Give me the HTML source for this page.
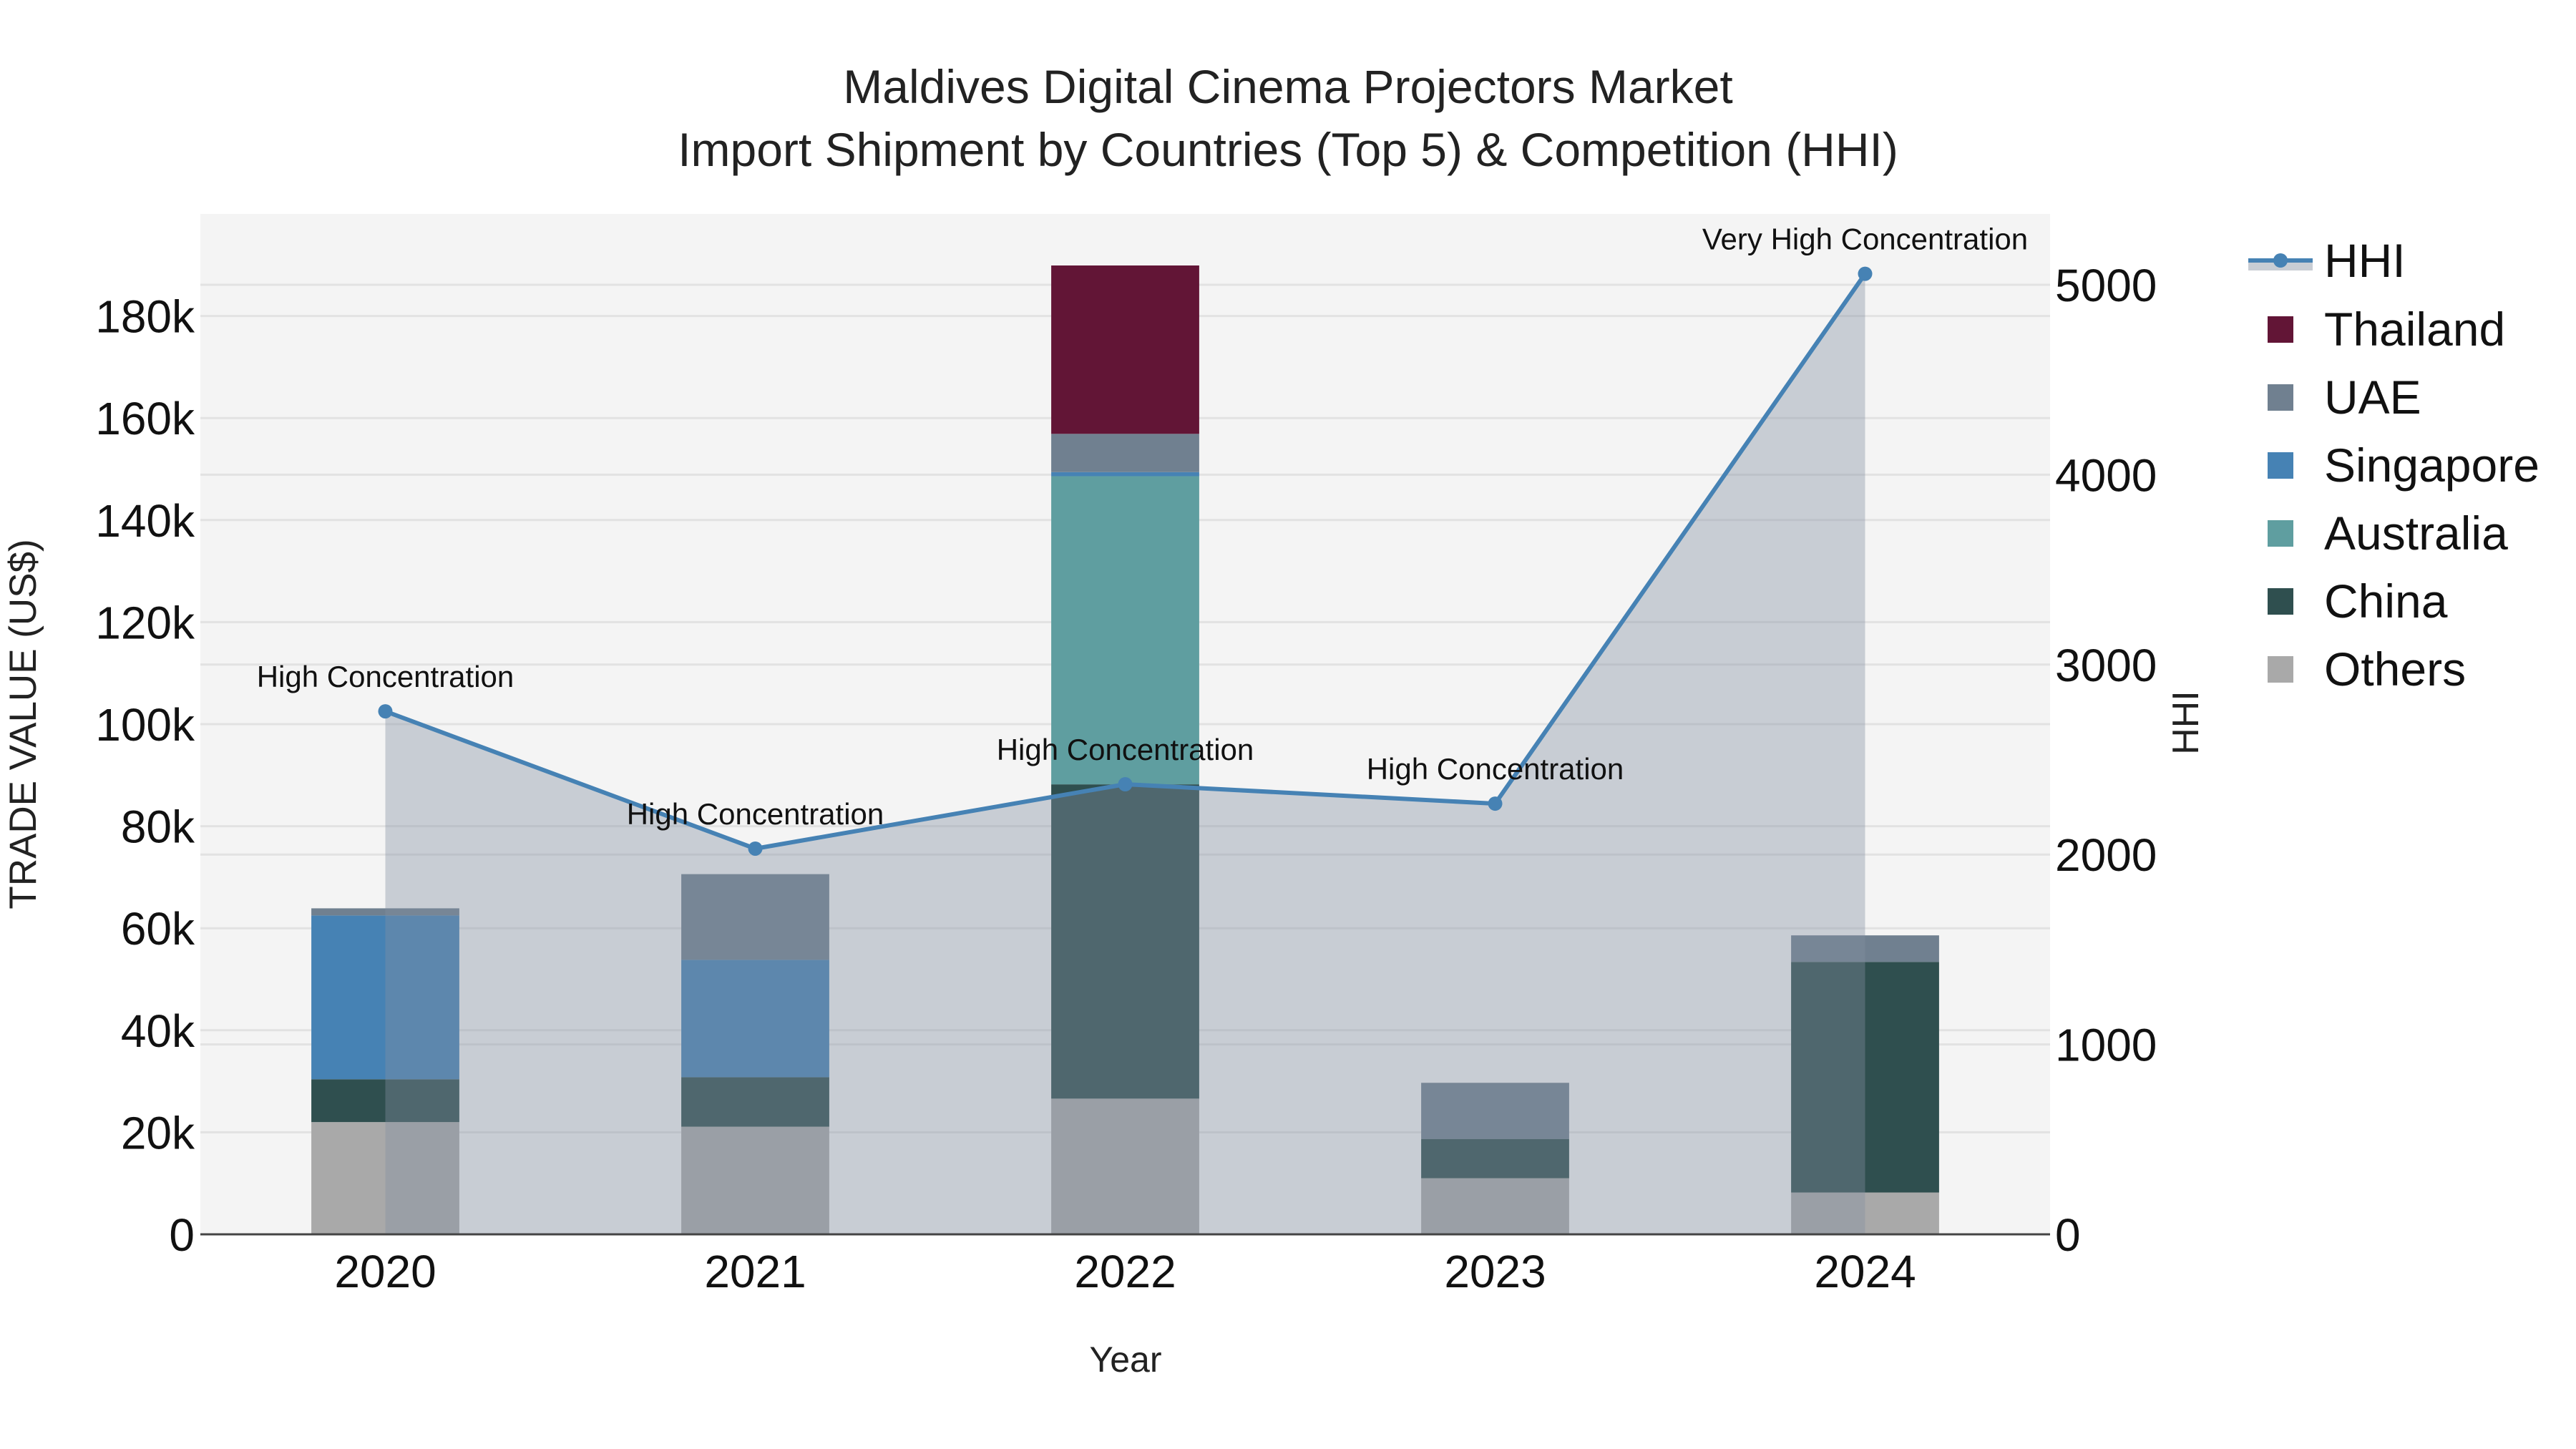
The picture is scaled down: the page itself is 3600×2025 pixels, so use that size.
<!DOCTYPE html>
<html><head><meta charset="utf-8"><style>
html,body{margin:0;padding:0;background:#fff;}
svg{display:block;font-family:"Liberation Sans",Arial,sans-serif;}
</style></head><body>
<svg id="chart" width="3600" height="2025" viewBox="0 0 3600 2025" xmlns="http://www.w3.org/2000/svg">
<rect x="0" y="0" width="3600" height="2025" fill="#fff"/>
<text x="1800" y="144" text-anchor="middle" font-size="66" fill="#222">Maldives Digital Cinema Projectors Market</text>
<text x="1800" y="232" text-anchor="middle" font-size="66" fill="#222">Import Shipment by Countries (Top 5) &amp; Competition (HHI)</text>
<rect x="280" y="299" width="2585" height="1426" fill="#f4f4f4"/>
<g id="grid"></g>
<g id="bars"></g>
<g id="area"></g>
<g id="line"></g>
<g id="axes"></g>
<text transform="translate(50,1012) rotate(-90)" text-anchor="middle" font-size="53" fill="#222">TRADE VALUE (US$)</text>
<text transform="translate(3072,1010) rotate(-90)" text-anchor="middle" font-size="52" fill="#222">HHI</text>
<text x="1573" y="1917" text-anchor="middle" font-size="50" fill="#222">Year</text>
<g id="legend"></g>
</svg>
<script>
const years = ["2020","2021","2022","2023","2024"];
const seriesNames = ["Others","China","Australia","Singapore","UAE","Thailand"];
const others    = [22.0, 21.1, 26.6, 11.0, 8.2];
const china     = [8.4, 9.7, 61.6, 7.7, 45.2];
const australia = [0, 0, 60.4, 0, 0];
const singapore = [32.1, 23.0, 0.8, 0, 0];
const uae       = [1.4, 16.8, 7.5, 11.0, 5.2];
const thailand  = [0, 0, 33.0, 0, 0];
const hhi = [2754, 2031, 2370, 2268, 5058];
const hhiLabels = ["High Concentration","High Concentration","High Concentration","High Concentration","Very High Concentration"];
const yTicks = [0,20,40,60,80,100,120,140,160,180];
const y2Ticks = [0,1000,2000,3000,4000,5000];

const NS="http://www.w3.org/2000/svg";
const L=280,R=2865,T=299,B=1725;
const band=(R-L)/years.length;
const xc=i=>L+band*(i+0.5);
const y=v=>B-(B-T)*v/200;
const y2=v=>B-(B-T)*v/5373;
function mk(tag,attrs,parent){const e=document.createElementNS(NS,tag);for(const k in attrs)e.setAttribute(k,attrs[k]);parent.appendChild(e);return e;}
const colors={Others:"#a9a9a9",China:"#2f4f4f",Australia:"#5f9ea0",Singapore:"#4682b4",UAE:"#708090",Thailand:"#621536"};
const data={Others:others,China:china,Australia:australia,Singapore:singapore,UAE:uae,Thailand:thailand};

const grid=document.getElementById('grid');
yTicks.forEach(t=>{const l=mk('line',{x1:L,x2:R,y1:y(t),y2:y(t),stroke:"#e2e2e2","stroke-width":3},grid);

});
y2Ticks.forEach(t=>{const l=mk('line',{x1:L,x2:R,y1:y2(t),y2:y2(t),stroke:"#e2e2e2","stroke-width":3},grid);

});

const bars=document.getElementById('bars');
const bw=band*0.4;
years.forEach((yr,i)=>{let base=0;seriesNames.forEach(s=>{const v=data[s][i];if(v>0){
const r=mk('rect',{x:xc(i)-bw/2,y:y(base+v),width:bw,height:y(base)-y(base+v),fill:colors[s]},bars);


base+=v;}});});

const area=document.getElementById('area');
let d="M"+xc(0)+","+B;hhi.forEach((v,i)=>d+=" L"+xc(i)+","+y2(v));d+=" L"+xc(hhi.length-1)+","+B+" Z";
const ap=mk('path',{d:d,fill:"rgba(130,143,161,0.385)"},area);



const lg=document.getElementById('line');
const pts=hhi.map((v,i)=>xc(i)+","+y2(v)).join(" ");
const pl=mk('polyline',{points:pts,fill:"none",stroke:"#4682b4","stroke-width":6},lg);


hhi.forEach((v,i)=>{const c=mk('circle',{cx:xc(i),cy:y2(v),r:10,fill:"#4682b4"},lg);


const t=mk('text',{x:xc(i),y:y2(v)-34,"text-anchor":"middle","font-size":42,fill:"#111"},lg);t.textContent=hhiLabels[i];

});

const ax=document.getElementById('axes');
const zl=mk('line',{x1:L,x2:R,y1:B,y2:B,stroke:"#444","stroke-width":3},ax);


yTicks.forEach(t=>{const e=mk('text',{x:272,y:y(t)+23,"text-anchor":"end","font-size":64,fill:"#111"},ax);e.textContent=t===0?"0":t+"k";

});
y2Ticks.forEach(t=>{const e=mk('text',{x:2872,y:y2(t)+23,"font-size":64,fill:"#111"},ax);e.textContent=t;

});
years.forEach((yr,i)=>{const e=mk('text',{x:xc(i),y:1799,"text-anchor":"middle","font-size":64,fill:"#111"},ax);e.textContent=yr;

});

const leg=document.getElementById('legend');
const lh=mk('g',{},leg);


mk('rect',{x:3142,y:364,width:90,height:14,fill:"#c8cdd4"},lh);
mk('line',{x1:3142,x2:3232,y1:364,y2:364,stroke:"#4682b4","stroke-width":6},lh);
mk('circle',{cx:3187,cy:364,r:10,fill:"#4682b4"},lh);
const ht=mk('text',{x:3248,y:387,"font-size":66,fill:"#111"},lh);ht.textContent="HHI";
const legOrder=["Thailand","UAE","Singapore","Australia","China","Others"];
legOrder.forEach((s,k)=>{const cy=460+k*95;const g=mk('g',{},leg);


mk('rect',{x:3169,y:cy-18,width:36,height:37,fill:colors[s]},g);
const t=mk('text',{x:3248,y:cy+23,"font-size":66,fill:"#111"},g);t.textContent=s;});
</script>
</body></html>
